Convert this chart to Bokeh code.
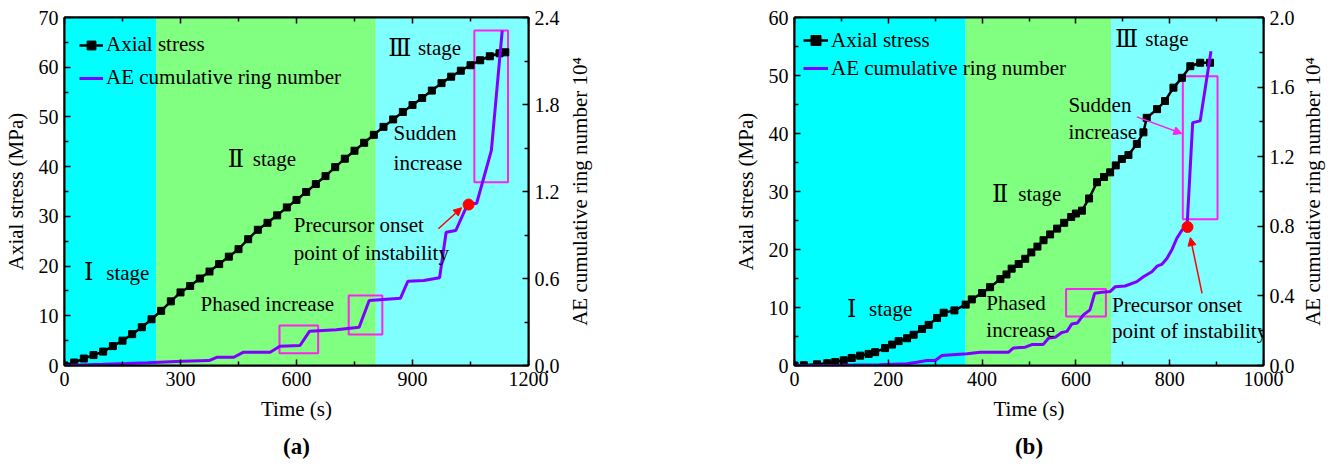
from bokeh.plotting import figure
from bokeh.models import (Range1d, LinearAxis, BoxAnnotation, Label, Arrow, NormalHead,
                          Legend, LegendItem, FixedTicker, NumeralTickFormatter, Title,
                          CustomJSTickFormatter)
from bokeh.layouts import row
from bokeh.embed import file_html
from bokeh.resources import INLINE

FONT = "Liberation Serif"
NUM_FONT = "DejaVu Serif"

# ---------------- Panel (a) data ----------------
t_stress_a = [0, 25, 50, 75, 100, 125, 150, 175, 200, 225, 250, 275, 300, 325, 350, 375, 400,
              425, 450, 475, 500, 525, 550, 575, 600, 625, 650, 675, 700, 725, 750, 775, 800,
              825, 850, 875, 900, 925, 950, 975, 1000, 1025, 1050, 1075, 1100, 1125, 1140]
stress_a = [0, 0.6, 1.4, 2.1, 2.8, 3.9, 5.0, 6.3, 7.7, 9.3, 11.0, 12.9, 14.7, 16.0, 17.5, 18.9,
            20.4, 21.9, 23.4, 25.4, 27.3, 28.7, 30.2, 31.8, 33.3, 34.9, 36.5, 38.1, 39.9, 41.6,
            43.2, 44.8, 46.4, 48.0, 49.5, 51.0, 52.4, 53.8, 55.3, 56.8, 58.1, 59.3, 60.4, 61.4,
            62.2, 62.8, 63.0]
t_ae_a = [0, 100, 160, 215, 305, 374, 395, 438, 463, 532, 557, 609, 634, 703, 762, 788, 869,
          888, 929, 970, 987, 1012, 1042, 1066, 1104, 1132]
ae_a = [0, 0.008, 0.013, 0.019, 0.03, 0.034, 0.057, 0.057, 0.092, 0.092, 0.133, 0.138, 0.237,
        0.246, 0.264, 0.448, 0.464, 0.581, 0.586, 0.605, 0.919, 0.931, 1.11, 1.119, 1.483, 2.31]
stage_a = [0, 237, 805, 1200]
onset_a = (1045, 1.11)
box_left_a = [556, 735, 1060]
box_right_a = [656, 822, 1147]
box_bottom_a = [0.085, 0.214, 1.264]
box_top_a = [0.276, 0.483, 2.31]
xticks_a = [0, 300, 600, 900, 1200]
xminor_a = [150, 450, 750, 1050]
yticks_a = [0, 10, 20, 30, 40, 50, 60, 70]
yminor_a = [5, 15, 25, 35, 45, 55, 65]
rticks_a = [0, 0.6, 1.2, 1.8, 2.4]
rminor_a = [0.3, 0.9, 1.5, 2.1]

# ---------------- Panel (b) data ----------------
t_stress_b = [0, 20, 48, 70, 87, 105, 122, 140, 158, 172, 193, 208, 222, 240, 254, 272, 286,
              304, 318, 341, 365, 378, 400, 417, 439, 452, 463, 478, 492, 505, 518, 531, 545,
              560, 575, 590, 600, 613, 628, 645, 660, 673, 685, 698, 712, 730, 744, 751, 773,
              790, 808, 826, 844, 865, 886]
stress_b = [0, 0.05, 0.2, 0.4, 0.6, 0.9, 1.3, 1.7, 2.0, 2.3, 3.0, 3.6, 4.2, 4.7, 5.3, 6.3, 7.0,
            8.2, 9.1, 9.5, 10.5, 11.4, 12.5, 13.5, 14.9, 15.7, 16.7, 17.5, 18.4, 19.5, 20.5,
            21.6, 22.6, 23.6, 24.6, 25.6, 26.2, 26.7, 28.8, 31.6, 32.5, 33.3, 34.5, 35.6, 36.3,
            38.2, 40.2, 42.7, 44.2, 45.6, 47.9, 49.6, 51.6, 52.2, 52.2]
t_ae_b = [0, 100, 180, 240, 261, 282, 300, 314, 368, 396, 456, 467, 492, 506, 530, 542, 556,
          570, 581, 591, 603, 616, 630, 640, 655, 673, 684, 705, 730, 744, 762, 773, 783, 794,
          805, 815, 826, 837, 849, 865, 888]
ae_b = [0, 0.002, 0.005, 0.01, 0.019, 0.029, 0.029, 0.057, 0.067, 0.076, 0.076, 0.101, 0.105,
        0.12, 0.12, 0.158, 0.162, 0.19, 0.196, 0.238, 0.244, 0.291, 0.32, 0.415, 0.421, 0.425,
        0.453, 0.457, 0.482, 0.51, 0.539, 0.571, 0.581, 0.615, 0.667, 0.73, 0.777, 0.80, 1.396,
        1.406, 1.806]
stage_b = [0, 365, 675, 1000]
onset_b = (838, 0.796)
box_left_b = [579, 828]
box_right_b = [664, 902]
box_bottom_b = [0.282, 0.84]
box_top_b = [0.44, 1.663]
xticks_b = [0, 200, 400, 600, 800, 1000]
xminor_b = [100, 300, 500, 700, 900]
yticks_b = [0, 10, 20, 30, 40, 50, 60]
yminor_b = [5, 15, 25, 35, 45, 55]
rticks_b = [0, 0.4, 0.8, 1.2, 1.6, 2.0]
rminor_b = [0.2, 0.6, 1.0, 1.4, 1.8]

stage_colors = ["#00FFFF", "#80FF80", "#80FFFF"]
PURPLE = "#8000FF"
MAGENTA = "#FF22EE"
RED = "#FF0000"
AE_LABEL = "AE cumulative ring number 10\u2074"


def style_axis(ax, label_size="21px"):
    ax.axis_line_width = 2
    ax.axis_line_color = "black"
    ax.major_tick_in = 6
    ax.major_tick_out = 0
    ax.minor_tick_in = 4
    ax.minor_tick_out = 0
    ax.major_tick_line_width = 1.5
    ax.minor_tick_line_width = 1.5
    ax.major_tick_line_color = "black"
    ax.minor_tick_line_color = "black"
    ax.major_label_text_font = FONT
    ax.major_label_text_font_size = "20px"
    ax.major_label_text_color = "black"
    ax.major_label_standoff = 6
    ax.axis_label_text_font = FONT
    ax.axis_label_text_font_size = label_size
    ax.axis_label_text_font_style = "normal"
    ax.axis_label_text_color = "black"
    ax.axis_label_standoff = 8


def make_panel(width, xr, yr, rr, borders, t_s, s, t_ae, ae, stage, onset,
               bl, br, bb, bt, xt, xm, yt, ym, rt, rm, caption):
    p = figure(width=width, height=470, x_range=Range1d(*xr), y_range=Range1d(*yr),
               output_backend="svg", toolbar_location=None,
               min_border_left=borders[0], min_border_right=borders[1],
               min_border_top=borders[2], min_border_bottom=borders[3])
    p.grid.visible = False
    p.outline_line_color = "black"
    p.outline_line_width = 2
    p.background_fill_color = "white"
    p.border_fill_color = "white"
    p.extra_y_ranges = {"ae": Range1d(*rr)}

    for i in range(3):
        p.add_layout(BoxAnnotation(left=stage[i], right=stage[i + 1], fill_color=stage_colors[i],
                                   fill_alpha=1, line_alpha=0, level="underlay"))

    p.xaxis.ticker = FixedTicker(ticks=xt, minor_ticks=xm)
    p.xaxis.formatter = NumeralTickFormatter(format="0")
    p.xaxis.axis_label = "Time (s)"
    style_axis(p.xaxis[0])
    p.yaxis.ticker = FixedTicker(ticks=yt, minor_ticks=ym)
    p.yaxis.formatter = NumeralTickFormatter(format="0")
    p.yaxis.axis_label = "Axial stress (MPa)"
    style_axis(p.yaxis[0])

    rax = LinearAxis(y_range_name="ae", ticker=FixedTicker(ticks=rt, minor_ticks=rm),
                     formatter=NumeralTickFormatter(format="0.0"))
    style_axis(rax)
    p.add_layout(rax, "right")

    tax = LinearAxis(ticker=FixedTicker(ticks=xt, minor_ticks=xm),
                     formatter=CustomJSTickFormatter(code="return ''"))
    style_axis(tax)
    tax.major_label_standoff = 0
    p.add_layout(tax, "above")

    p.quad(left=bl, right=br, bottom=bb, top=bt, fill_alpha=0, line_color=MAGENTA,
           line_width=2, y_range_name="ae")

    l1 = p.line(t_s, s, line_color="black", line_width=2.5)
    s1 = p.scatter(t_s, s, marker="square", size=7, fill_color="black", line_color="black")
    l2 = p.line(t_ae, ae, line_color=PURPLE, line_width=3, y_range_name="ae")
    p.scatter([onset[0]], [onset[1]], marker="circle", size=11, fill_color=RED,
              line_color=RED, y_range_name="ae")

    p.add_layout(Title(text=caption, align="center", text_font=FONT, text_font_size="23px",
                       text_font_style="bold", text_color="black", standoff=16), "below")
    return p, l1, s1, l2


def make_side_label(width, top, bottom):
    q = figure(width=width, height=470, output_backend="svg", toolbar_location=None,
               x_axis_location=None, y_axis_location=None,
               min_border_left=0, min_border_right=0, min_border_top=top,
               min_border_bottom=bottom)
    q.grid.visible = False
    q.outline_line_color = None
    q.background_fill_color = "white"
    q.border_fill_color = "white"
    q.add_layout(Title(text=AE_LABEL, align="center", text_font=FONT, text_font_size="21px",
                       text_font_style="normal", text_color="black", standoff=0), "left")
    return q


def txt(p, x, y, text, size="21px", font=FONT, align="left", yr="default"):
    p.add_layout(Label(x=x, y=y, text=text, text_font=font, text_font_size=size,
                       text_align=align, text_baseline="middle", text_color="black",
                       y_range_name=yr))


def make_legend(r1, r2, gw, gh, sp, pad, mar):
    return Legend(items=[LegendItem(label="Axial stress", renderers=r1),
                         LegendItem(label="AE cumulative ring number", renderers=r2)],
                  location="top_left", background_fill_alpha=0, border_line_alpha=0,
                  label_text_font=FONT, label_text_font_size="21px", label_text_color="black",
                  glyph_width=gw, glyph_height=gh, label_height=gh, spacing=sp,
                  padding=pad, margin=mar, label_standoff=3)


# ---------------- Panel (a) ----------------
pa, la1, sa1, la2 = make_panel(565, (0, 1200), (0, 70), (0, 2.4), (61, 37, 17, 105),
                               t_stress_a, stress_a, t_ae_a, ae_a, stage_a, onset_a,
                               box_left_a, box_right_a, box_bottom_a, box_top_a,
                               xticks_a, xminor_a, yticks_a, yminor_a, rticks_a, rminor_a,
                               "(a)")
pa.add_layout(make_legend([la1, sa1], [la2], 24, 22, 8, 5, 10))

txt(pa, 63, 18.8, "\u2160", size="24px", font=NUM_FONT, align="center")
txt(pa, 108, 18.7, "stage")
txt(pa, 443, 41.6, "\u2161", size="24px", font=NUM_FONT, align="center")
txt(pa, 487, 41.6, "stage")
txt(pa, 867, 63.8, "\u2162", size="24px", font=NUM_FONT, align="center")
txt(pa, 914, 63.8, "stage")
txt(pa, 851, 46.7, "Sudden")
txt(pa, 851, 40.8, "increase")
txt(pa, 593, 28.2, "Precursor onset")
txt(pa, 593, 22.7, "point of instability")
txt(pa, 352, 12.3, "Phased increase")
pa.add_layout(Arrow(end=NormalHead(size=8, fill_color=RED, line_color=RED),
                    x_start=967, y_start=0.943, x_end=1027, y_end=1.088,
                    line_color=RED, line_width=1.5, y_range_name="ae"))

side_a = make_side_label(43, 12, 100)

# ---------------- Panel (b) ----------------
pb, lb1, sb1, lb2 = make_panel(690, (0, 1000), (0, 60), (0, 2.0), (186, 35, 16, 104),
                               t_stress_b, stress_b, t_ae_b, ae_b, stage_b, onset_b,
                               box_left_b, box_right_b, box_bottom_b, box_top_b,
                               xticks_b, xminor_b, yticks_b, yminor_b, rticks_b, rminor_b,
                               "(b)")
pb.add_layout(make_legend([lb1, sb1], [lb2], 25, 28, 0, 4, 5))

txt(pb, 122, 9.7, "\u2160", size="24px", font=NUM_FONT, align="center")
txt(pb, 159, 9.7, "stage")
txt(pb, 438.6, 29.6, "\u2161", size="24px", font=NUM_FONT, align="center")
txt(pb, 477, 29.6, "stage")
txt(pb, 708, 56.3, "\u2162", size="24px", font=NUM_FONT, align="center")
txt(pb, 748, 56.3, "stage")
txt(pb, 584, 45.0, "Sudden")
txt(pb, 584, 40.2, "increase")
txt(pb, 409, 10.75, "Phased")
txt(pb, 409, 6.2, "increase")
txt(pb, 677, 10.5, "Precursor onset")
txt(pb, 677, 5.9, "point of instability")
pb.add_layout(Arrow(end=NormalHead(size=8, fill_color=RED, line_color=RED),
                    x_start=869, y_start=0.415, x_end=844, y_end=0.735,
                    line_color=RED, line_width=1.5, y_range_name="ae"))
pb.add_layout(Arrow(end=NormalHead(size=8, fill_color=MAGENTA, line_color=MAGENTA),
                    x_start=730, y_start=1.429, x_end=826, y_end=1.333,
                    line_color=MAGENTA, line_width=1.5, y_range_name="ae"))

side_b = make_side_label(38, 12, 100)

layout = row(pa, side_a, pb, side_b, spacing=0)
open("out.html", "w").write(file_html(layout, INLINE))
